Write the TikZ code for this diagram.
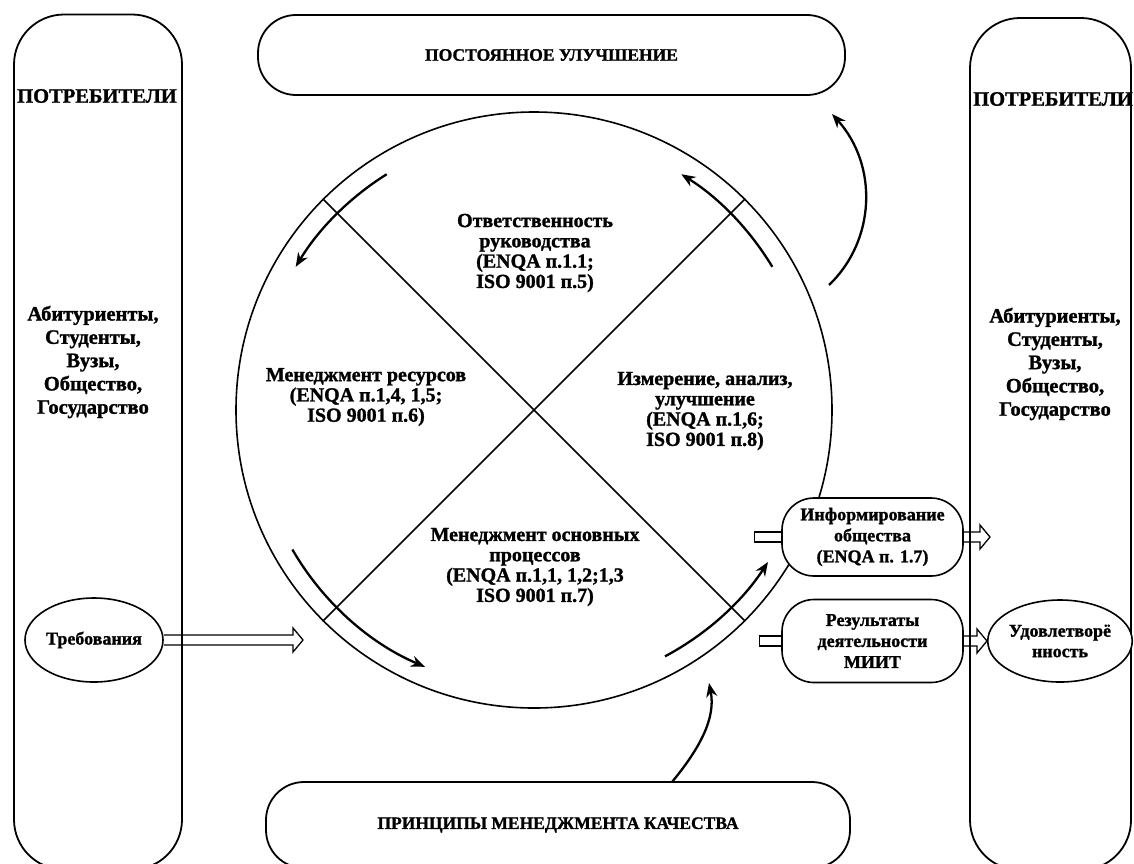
\documentclass[tikz,border=0pt]{standalone}
\usepackage{fontspec}
\setmainfont{Liberation Serif}[BoldFeatures={FakeBold=1.3}]
\usetikzlibrary{arrows.meta,calc,shapes.geometric}
\newcommand\hollowarr[2]{%
  \draw[holl] let \p1=(#1), \p2=(#2) in
    (\x1,\y1+5pt) -- (\x2-10pt,\y1+5pt) -- (\x2-10pt,\y1+12pt) -- (\x2,\y1)
    -- (\x2-10pt,\y1-12pt) -- (\x2-10pt,\y1-5pt) -- (\x1,\y1-5pt);}
\begin{document}
\begin{tikzpicture}[x=1pt,y=-1pt,
  colbox/.style={draw,line width=1.8pt,rounded corners=50pt,inner sep=0pt},
  bandbox/.style={draw,line width=1.8pt,rounded corners=38pt,inner sep=0pt,
    font=\fontsize{17.5}{20}\selectfont\bfseries},
  ring/.style={circle,draw,line width=1.6pt,minimum size=596pt,inner sep=0pt},
  ctext/.style={align=center,inner sep=0pt,font=\fontsize{20}{20.3}\selectfont\bfseries},
  coltext/.style={align=center,inner sep=0pt,font=\fontsize{20.5}{23.3}\selectfont\bfseries},
  ell/.style={ellipse,draw,fill=white,line width=1.6pt,inner sep=0pt,align=center,
    font=\fontsize{18}{20.5}\selectfont\bfseries},
  pill/.style={draw,fill=white,line width=1.6pt,rounded corners=32pt,inner sep=0pt,
    align=center,minimum width=181pt,font=\fontsize{18}{21}\selectfont\bfseries},
  arr/.style={line width=2.3pt,-{Stealth[length=14pt,width=11pt]}},
  holl/.style={line width=1.3pt,line join=miter},
  cross/.style={line width=1.5pt}]
\useasboundingbox (0,0) rectangle (1134,863);

% columns
\node[colbox,minimum width=168pt,minimum height=855pt] (lcol) at (98,442) {};
\node[colbox,minimum width=161pt,minimum height=852pt] (rcol) at (1050.5,444) {};
\node[coltext] (ltitle) at (97,96) {ПОТРЕБИТЕЛИ};
\node[coltext] (rtitle) at (1053,99) {ПОТРЕБИТЕЛИ};
\node[coltext] (lcons) at (93,362) {Абитуриенты,\\Студенты,\\Вузы,\\Общество,\\Государство};
\node[coltext] (rcons) at (1055,364) {Абитуриенты,\\Студенты,\\Вузы,\\Общество,\\Государство};

% bands
\node[bandbox,minimum width=587pt,minimum height=80pt] (top) at (551.5,55) {ПОСТОЯННОЕ УЛУЧШЕНИЕ};
\node[bandbox,minimum width=584pt,minimum height=86pt] (bot) at (558,825) {ПРИНЦИПЫ МЕНЕДЖМЕНТА КАЧЕСТВА};

% circle
\node[ring] (cyc) at (534,410) {};
\draw[cross] (cyc.45) -- (cyc.225);
\draw[cross] (cyc.135) -- (cyc.-45);

\node[ctext] (q1) at (535,253) {Ответственность\\руководства\\(ENQA п.1.1;\\ISO 9001 п.5)};
\node[ctext] (q2) at (366,397) {Менеджмент ресурсов\\(ENQA п.1,4, 1,5;\\ISO 9001 п.6)};
\node[ctext] (q3) at (705,411) {Измерение, анализ,\\улучшение\\(ENQA п.1,6;\\ISO 9001 п.8)};
\node[ctext] (q4) at (535,567) {Менеджмент основных\\процессов\\(ENQA п.1,1, 1,2;1,3\\ISO 9001 п.7)};

% cycle arrows
\draw[arr] ($(cyc.center)+(238:278)$) arc[start angle=238,end angle=211,radius=278];
\draw[arr] ($(cyc.center)+(150:279)$) arc[start angle=150,end angle=113,radius=279];
\draw[arr] ($(cyc.center)+(62:279)$) arc[start angle=62,end angle=33,radius=279];
\draw[arr] ($(cyc.center)+(329:278)$) arc[start angle=329,end angle=302,radius=278];

% outer curved arrows
\coordinate (upS) at (829,285);
\coordinate (upE) at (832,114);
\draw[arr] (upS) .. controls (876,240) and (878,165) .. (upE);
\coordinate (botS) at (672,782);
\coordinate (botE) at (709,683);
\draw[arr] (botS) .. controls (700,748) and (716,718) .. (botE);

% small nodes
\node[ell,minimum width=138pt,minimum height=84pt] (treb) at (94,640) {Требования};
\node[pill,minimum height=78pt] (info) at (872.5,537) {Информирование\\общества\\(ENQA п. 1.7)};
\node[pill,minimum height=83pt] (res) at (872.5,641) {Результаты\\деятельности\\МИИТ};
\node[ell,minimum width=134pt,minimum height=82pt] (udov) at (1060,641) {Удовлетворё\\нность};

% hollow arrows and stubs
\coordinate (trebtip) at (303,640);
\coordinate (infotip) at (990,537);
\hollowarr{treb.east}{trebtip}
\hollowarr{info.east}{infotip}
\hollowarr{res.east}{udov.west}
\draw[holl] ($(info.west)+(0,-5)$) -- ++(-27,0) -- ++(0,10) -- ++(27,0);
\draw[holl] ($(res.west)+(0,-5)$) -- ++(-22,0) -- ++(0,10) -- ++(22,0);
\end{tikzpicture}
\end{document}
